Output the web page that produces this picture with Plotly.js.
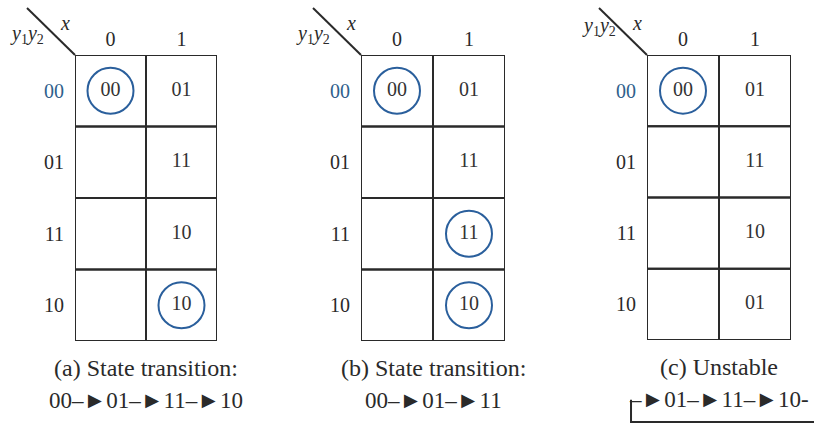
<!DOCTYPE html>
<html>
<head>
<meta charset="utf-8">
<script src="https://cdn.plot.ly/plotly-3.0.1.min.js"></script>
<style>html,body{margin:0;padding:0;background:#fff;}#chart{width:814px;height:427px;}</style>
</head>
<body>
<div id="chart"></div>
<script>
// ---- data ----
const colLabels = ["0", "1"];                 // input x
const rowLabels = ["00", "01", "11", "10"];   // present state y1y2
// next-state entries, rows = y1y2, columns = x
const nextA = [["00", "01"], ["", "11"], ["", "10"], ["", "10"]];
const nextB = [["00", "01"], ["", "11"], ["", "11"], ["", "10"]];
const nextC = [["00", "01"], ["", "11"], ["", "10"], ["", "01"]];
const captionTitles = ["(a) State transition:", "(b) State transition:", "(c) Unstable"];
const seqA = ["00", "01", "11", "10"];
const seqB = ["00", "01", "11"];
const seqC = ["", "01", "11", "10"];

// ---- layout constants ----
const W = 814, H = 427;
const panelsPx = [[75, 217, 55, 341], [361, 505, 55, 341], [647, 791, 55, 340]];
const serif = "Liberation Serif, Times New Roman, serif";
const ink = "#2a2a2a";
const blue = "#2a5f9c";
const arrow = "\u2013\u25BA";

const tables = [nextA, nextB, nextC];
const seqs = [seqA.join(arrow), seqB.join(arrow), seqC.join(arrow) + "-"];
const traces = [];
const shapes = [];
const annotations = [];
const layout = {
  width: W, height: H,
  margin: {l: 0, r: 0, t: 0, b: 0},
  paper_bgcolor: "#fff", plot_bgcolor: "#fff",
  showlegend: false,
  font: {family: serif, color: ink}
};

tables.forEach((tbl, p) => {
  const n = p === 0 ? "" : String(p + 1);
  const xa = "x" + n, ya = "y" + n;
  const [l, r, t, b] = panelsPx[p];
  const wPx = r - l, hPx = b - t;
  layout["xaxis" + n] = {
    domain: [l / W, r / W], range: [-0.5, colLabels.length - 0.5],
    anchor: ya, side: "top",
    tickmode: "array", tickvals: colLabels.map((_, i) => i), ticktext: colLabels,
    ticks: "", ticklabelstandoff: 4,
    tickfont: {family: serif, size: 20, color: ink},
    showgrid: false, zeroline: false, showline: false, fixedrange: true
  };
  layout["yaxis" + n] = {
    domain: [(H - b) / H, (H - t) / H], range: [rowLabels.length - 0.5, -0.5],
    anchor: xa,
    tickmode: "array", tickvals: rowLabels.map((_, i) => i),
    ticktext: rowLabels.map((s, i) => i === 0 ? '<span style="color:#2f5f8c">' + s + '</span>' : s),
    ticks: "", ticklabelstandoff: 10,
    tickfont: {family: serif, size: 20, color: ink},
    showgrid: false, zeroline: false, showline: false, fixedrange: true
  };

  const tx = [], ty = [], tt = [], cx = [], cy = [];
  tbl.forEach((row, ri) => row.forEach((v, ci) => {
    if (v !== "") { tx.push(ci); ty.push(ri); tt.push(v); }
    if (v !== "" && v === rowLabels[ri]) { cx.push(ci); cy.push(ri); }   // stable state
    shapes.push({type: "rect", xref: xa, yref: ya,
      x0: ci - 0.5, x1: ci + 0.5, y0: ri - 0.5, y1: ri + 0.5,
      line: {color: ink, width: 2}, layer: "below"});
  }));
  traces.push({type: "scatter", mode: "text", x: tx, y: ty, text: tt,
    xaxis: xa, yaxis: ya, hoverinfo: "skip",
    textfont: {family: serif, size: 20, color: "#333"}});
  traces.push({type: "scatter", mode: "markers", x: cx, y: cy,
    xaxis: xa, yaxis: ya, hoverinfo: "skip",
    marker: {symbol: "circle-open", size: 46, color: blue, line: {width: 2, color: blue}}});

  // diagonal header line from the top-left corner of the table
  shapes.push({type: "line", xref: xa + " domain", yref: ya + " domain",
    x0: 0, y0: 1, x1: -48 / wPx, y1: 1 + 47 / hPx, line: {color: ink, width: 2}});
  annotations.push({xref: xa + " domain", yref: ya + " domain", x: 0, y: 1,
    xanchor: "center", yanchor: "middle", xshift: -10, yshift: 32,
    text: "<i>x</i>", showarrow: false, font: {family: serif, size: 20, color: ink}});
  annotations.push({xref: xa + " domain", yref: ya + " domain", x: 0, y: 1,
    xanchor: "center", yanchor: "middle", xshift: -48, yshift: p === 2 ? 29 : 21,
    text: "<i>y</i><sub>1</sub><i>y</i><sub>2</sub>", showarrow: false,
    font: {family: serif, size: 20, color: ink}});

  // captions
  annotations.push({xref: xa + " domain", yref: ya + " domain", x: 0.5, y: 0, yshift: -27,
    xanchor: "center", yanchor: "middle", text: captionTitles[p], showarrow: false,
    font: {family: serif, size: 24, color: ink}});
  annotations.push({xref: xa + " domain", yref: ya + " domain", x: 0.5, y: 0, yshift: -59,
    xanchor: "center", yanchor: "middle", text: seqs[p], showarrow: false,
    font: {family: serif, size: 23, color: ink}});
});

// feedback loop under the unstable sequence (panel c)
shapes.push({type: "path", xref: "x3 domain", yref: "y3 domain",
  path: "M -0.111,-0.21 L -0.111,-0.288 L 1.3,-0.288",
  line: {color: ink, width: 2}});

layout.shapes = shapes;
layout.annotations = annotations;
Plotly.newPlot("chart", traces, layout, {staticPlot: true, displayModeBar: false});
</script>
</body>
</html>
